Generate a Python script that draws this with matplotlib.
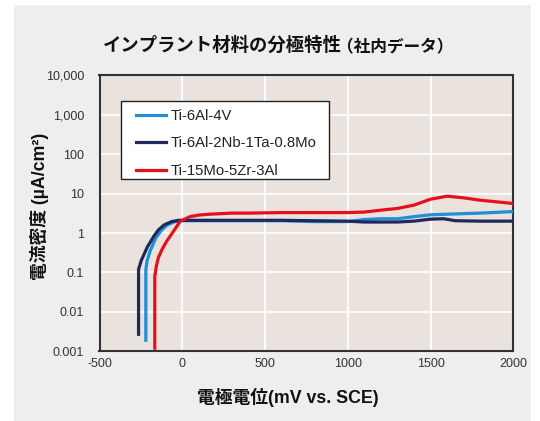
import matplotlib
matplotlib.use("Agg")
import matplotlib.pyplot as plt
from matplotlib.patches import Rectangle
from matplotlib.ticker import FixedLocator, FixedFormatter

plt.rcParams['font.family'] = ['Liberation Sans', 'Noto Sans CJK JP', 'DejaVu Sans']
plt.rcParams['axes.unicode_minus'] = False

# data (mV vs SCE, uA/cm2)
x_ti64 = [-220, -220, -212, -194, -160, -124, -90, -44, 0, 200, 400, 600, 800, 900, 1000, 1100, 1200, 1300, 1400, 1500, 1600, 1800, 2000]
y_ti64 = [0.0019, 0.12, 0.2, 0.35, 0.75, 1.2, 1.6, 1.95, 2.05, 2.05, 2.05, 2.05, 1.95, 1.95, 1.95, 2.2, 2.3, 2.3, 2.6, 2.9, 3.0, 3.2, 3.5]

x_ti6al = [-264, -264, -248, -210, -170, -144, -110, -64, -20, 0, 200, 400, 600, 800, 1000, 1100, 1200, 1300, 1400, 1500, 1580, 1650, 1800, 2000]
y_ti6al = [0.0027, 0.12, 0.2, 0.45, 0.85, 1.2, 1.6, 1.95, 2.1, 2.1, 2.1, 2.1, 2.1, 2.05, 2.0, 1.9, 1.9, 1.9, 2.0, 2.25, 2.3, 2.05, 2.0, 2.0]

x_ti15 = [-166, -166, -156, -144, -120, -94, -60, -14, 20, 46, 100, 166, 300, 400, 600, 800, 1000, 1100, 1200, 1300, 1400, 1500, 1600, 1700, 1800, 2000]
y_ti15 = [0.0012, 0.08, 0.15, 0.24, 0.4, 0.62, 1.0, 1.95, 2.3, 2.6, 2.85, 3.0, 3.2, 3.2, 3.3, 3.3, 3.3, 3.4, 3.8, 4.2, 5.1, 7.2, 8.6, 7.8, 6.8, 5.6]

series_labels = ['Ti-6Al-4V', 'Ti-6Al-2Nb-1Ta-0.8Mo', 'Ti-15Mo-5Zr-3Al']
series_colors = ['#1f8fd6', '#1e2a5e', '#e60f1e']

x_ticks = [-500, 0, 500, 1000, 1500, 2000]
y_ticks = [0.001, 0.01, 0.1, 1, 10, 100, 1000, 10000]
y_tick_labels = ['0.001', '0.01', '0.1', '1', '10', '100', '1,000', '10,000']

W, H = 540, 421
fig = plt.figure(figsize=(5.4, 4.21), dpi=100)
fig.patch.set_facecolor('white')
fig.patches.append(Rectangle((14 / W, 0), (531 - 14) / W, (H - 5) / H,
                             transform=fig.transFigure, facecolor='#eeeeee',
                             edgecolor='none', zorder=-10))

ax = fig.add_axes([99.5 / W, (H - 351.3) / H, (513.3 - 99.5) / W, (351.3 - 75.3) / H])
ax.set_zorder(1)
ax.set_facecolor('#e9e2dd')

for xs, ys, lab, col in zip([x_ti64, x_ti6al, x_ti15], [y_ti64, y_ti6al, y_ti15], series_labels, series_colors):
    ax.plot(xs, ys, color=col, lw=2.3, label=lab, solid_joinstyle='round', zorder=3)

ax.set_yscale('log')
ax.set_xlim(-500, 2000)
ax.set_ylim(0.001, 10000)
ax.xaxis.set_major_locator(FixedLocator(x_ticks))
ax.yaxis.set_major_locator(FixedLocator(y_ticks))
ax.yaxis.set_major_formatter(FixedFormatter(y_tick_labels))
ax.yaxis.set_minor_locator(FixedLocator([]))
ax.grid(True, color='white', lw=1.2, zorder=1)
ax.set_axisbelow(True)
ax.tick_params(length=0, labelsize=9, colors='#333333', pad=5)
ax.tick_params(axis='y', pad=11)
for sp in ax.spines.values():
    sp.set_color('#333333')
    sp.set_linewidth(1.5)

# legend box drawn by hand, entries placed inside it
ax.add_patch(Rectangle(((121 - 99.5) / 413.8, (351.3 - 179) / 276), (329 - 121) / 413.8, (179 - 101) / 276,
                       transform=ax.transAxes, facecolor='white', edgecolor='#222222',
                       lw=1.0, zorder=4))
leg = ax.legend(loc='upper left', bbox_to_anchor=((136 - 99.5) / 413.8, (351.3 - 109) / 276),
                fontsize=10.7, frameon=False, handlelength=2.0, handletextpad=0.35,
                labelspacing=0.9, borderpad=0, borderaxespad=0)
leg.set_zorder(5)
for t in leg.get_texts():
    t.set_color('#222222')

fig.text(102.7 / W, 1 - 46 / H, 'インプラント材料の分極特性', ha='left', va='center',
         fontsize=13.2, fontweight='bold', color='#111111')
fig.text(337 / W, 1 - 47 / H, '（社内データ）', ha='left', va='center',
         fontsize=12, fontweight='bold', color='#111111')
fig.text(288 / W, 1 - 397 / H, '電極電位(mV vs. SCE)', ha='center', va='center',
         fontsize=12.8, fontweight='bold', color='#111111')
fig.text(40 / W, 1 - 206 / H, '電流密度 (µA/cm²)', ha='center', va='center',
         rotation=90, fontsize=12.8, fontweight='bold', color='#111111')

fig.savefig('out.png', dpi=100)
